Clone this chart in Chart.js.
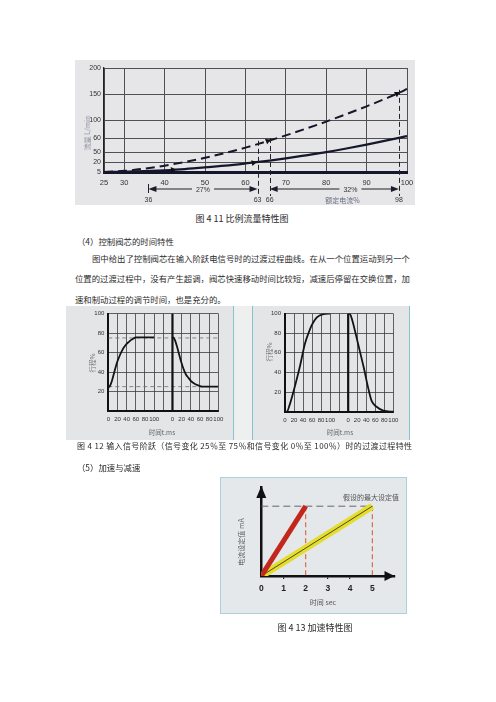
<!DOCTYPE html>
<html lang="zh-CN">
<head>
<meta charset="utf-8">
<script src="https://cdn.jsdelivr.net/npm/chart.js@4.4.1/dist/chart.umd.min.js"></script>
<style>
  body { margin: 0; width: 496px; height: 702px; position: relative; overflow: hidden; background: #fff;
         font-family: "Noto Sans CJK SC", sans-serif; color: #2b2b2b; }
  canvas { position: absolute; }
  .box { position: absolute; }
  .t { position: absolute; line-height: 14px; font-size: 8.4px; white-space: nowrap; }
  .c { position: absolute; white-space: nowrap; transform: translate(-50%, -50%); }
  .v { position: absolute; white-space: nowrap; transform: translate(-50%, -50%) rotate(-90deg); }
</style>
</head>
<body>

<!-- 图4-11 -->
<div class="box" style="left:75px;top:60px;width:340px;height:145px;background:#e6e6e8"></div>
<canvas id="flowChart" width="360" height="155" style="left:65px;top:55px"></canvas>
<div class="v" style="left:87px;top:133px;font-size:7px;color:#8a8e9c">流量 L/min</div>

<div class="t" style="left:142px;top:212px;width:200px;text-align:center;font-size:9px">图 4 11 比例流量特性图</div>
<div class="t" style="left:77px;top:234px">（4）控制阀芯的时间特性</div>
<div class="t j" data-w="318" style="left:92px;top:251px">图中给出了控制阀芯在输入阶跃电信号时的过渡过程曲线。在从一个位置运动到另一个</div>
<div class="t j" data-w="335" style="left:75px;top:271px">位置的过渡过程中，没有产生超调，阀芯快速移动时间比较短，减速后停留在交换位置，加</div>
<div class="t" style="left:75px;top:292px">速和制动过程的调节时间，也是充分的。</div>

<!-- 图4-12 -->
<div class="box" style="left:66px;top:306px;width:167px;height:134px;background:#e4e5e7;border-right:1px solid #86c2cf"></div>
<div class="box" style="left:234px;top:306px;width:18px;height:134px;background:#eef0f0"></div>
<div class="box" style="left:252px;top:306px;width:156px;height:134px;background:#e4e5e7;border-left:1px solid #86c2cf;border-right:1px solid #86c2cf"></div>
<canvas id="stepLeft" width="167" height="134" style="left:66px;top:306px"></canvas>
<canvas id="stepRight" width="157" height="134" style="left:252px;top:306px"></canvas>
<div class="v" style="left:92px;top:363px;font-size:6.5px;color:#777">行程%</div>
<div class="v" style="left:269px;top:352px;font-size:6.5px;color:#777">行程%</div>
<div class="c" style="left:162px;top:432px;font-size:6.5px;color:#666">时间t.ms</div>
<div class="c" style="left:340px;top:432px;font-size:6.5px;color:#666">时间t.ms</div>

<div class="t j" data-w="335" style="left:77px;top:439px;font-size:8px">图 4 12 输入信号阶跃（信号变化 25％至 75％和信号变化 0％至 100％）时的过渡过程特性</div>
<div class="t" style="left:77px;top:460px">（5）加速与减速</div>

<!-- 图4-13 -->
<div class="box" style="left:220px;top:477px;width:185px;height:135px;background:#e4e8eb;border:1.5px solid #a9d2dd"></div>
<canvas id="rampChart" width="188" height="137" style="left:220px;top:477px"></canvas>
<div class="c" style="left:371px;top:497px;font-size:7px;color:#555">假设的最大设定值</div>
<div class="v" style="left:241px;top:542px;font-size:7px;color:#666">电流设定值 mA</div>
<div class="c" style="left:323px;top:602px;font-size:7px;color:#555">时间 sec</div>

<div class="t" style="left:265px;top:621px;width:100px;text-align:center;font-size:9px">图 4 13  加速特性图</div>

<script>
  // ===== 图4-11 比例流量特性 =====
  const currentPct = [25, 30, 35, 40, 45, 50, 55, 60, 66, 70, 75, 80, 85, 90, 95, 98, 100];
  const flowMax    = [5, 6.7, 10, 14.5, 20, 32.6, 47, 53.1, 58.2, 65.8, 80.7, 96.4, 111.3, 126.3, 142.1, 152.1, 159.6];
  const flowRated  = [5, 5.3, 6.2, 7.6, 9.4, 11.8, 14.5, 17.8, 24.2, 30.8, 40.1, 49.7, 52.5, 55.3, 58.3, 60.4, 64.4];
  const flowXTicks = [25, 30, 40, 50, 60, 70, 80, 90, 100];
  const flowYTicks = [5, 20, 50, 60, 100, 150, 200];
  const arrowPct   = [42, 62, 65.5, 97.5];
  const arrowFlow  = [8.3, 19, 57.9, 150.4];
  const rangeFrom  = [36, 66];
  const rangeTo    = [63, 98];
  const rangeText  = ['27%', '32%'];
  const dropPct    = [63, 66, 98];
  const dropFlow   = [58, 60, 158];

  // ===== 图4-12 阶跃过渡过程 =====
  const riseT  = [0, 4, 8, 12, 16, 20, 25, 30, 35, 40, 45, 50, 55, 60, 70, 100];
  const riseY  = [24, 26, 31, 38, 45, 51, 57, 62, 66, 69, 71, 73, 74.5, 75.5, 75.5, 75.5];
  const fallT  = [0, 3, 6, 10, 14, 18, 22, 26, 30, 35, 40, 45, 50, 55, 60, 65, 100];
  const fallY  = [76, 75, 72, 66, 59, 52, 46, 41, 37, 34, 31, 29, 27.5, 26.5, 25.5, 25, 25];
  const openT  = [0, 4, 11, 22, 33, 44, 52, 59, 70, 85, 100];
  const openY  = [0, 0, 8, 26, 46, 69, 80, 88, 96, 99.5, 100];
  const closeT = [0, 3, 6, 11, 22, 34, 45, 52, 63, 78, 100];
  const closeY = [100, 100, 97.7, 90, 69, 46, 23, 11, 5, 1, 0];
  const signalLevels = [25, 75];

  // ===== 图4-13 加速特性 =====
  const fastRampT = [0, 2];
  const slowRampT = [0, 5];
  const rampMA    = [0, 20];

  // 两端对齐的文字行
  document.querySelectorAll('.j').forEach(el => {
    const target = parseFloat(el.dataset.w);
    const natural = el.getBoundingClientRect().width;
    const n = el.textContent.length;
    el.style.letterSpacing = ((target - natural) / (n - 1)) + 'px';
  });

  const FONT = 'Liberation Sans, Arial, sans-serif';
  Chart.defaults.font.family = FONT;
  Chart.defaults.animation = false;
  Chart.defaults.plugins.legend.display = false;
  Chart.defaults.plugins.tooltip.enabled = false;

  const pts = (xs, ys, dx = 0) => xs.map((x, i) => ({ x: x + dx, y: ys[i] }));

  // 原图纵轴刻度不等距，用分段线性的刻度轴
  const flowYSpacing = [0, 10, 20, 34, 52, 78, 104];
  class StretchScale extends Chart.LinearScale {
    toAxis(v) {
      if (v <= flowYTicks[0]) return flowYSpacing[0];
      for (let i = 1; i < flowYTicks.length; i++) {
        if (v <= flowYTicks[i]) {
          const f = (v - flowYTicks[i - 1]) / (flowYTicks[i] - flowYTicks[i - 1]);
          return flowYSpacing[i - 1] + f * (flowYSpacing[i] - flowYSpacing[i - 1]);
        }
      }
      return flowYSpacing[flowYSpacing.length - 1];
    }
    buildTicks() { return flowYTicks.map(v => ({ value: v })); }
    getPixelForValue(v, i) { return super.getPixelForValue(this.toAxis(v), i); }
  }
  StretchScale.id = 'stretch';
  StretchScale.defaults = Chart.LinearScale.defaults;
  Chart.register(StretchScale);

  function head(ctx, x, y, dir, len = 8, half = 3) {
    ctx.beginPath();
    ctx.moveTo(x, y);
    ctx.lineTo(x - dir * len, y - half);
    ctx.lineTo(x - dir * len, y + half);
    ctx.closePath();
    ctx.fill();
  }

  const flowNotes = {
    id: 'flowNotes',
    afterDraw(chart) {
      const { ctx, scales: { x, y } } = chart;
      const base = y.bottom;
      ctx.save();
      ctx.strokeStyle = '#222';
      ctx.fillStyle = '#1c1c2c';
      ctx.lineWidth = 1;

      ctx.setLineDash([5, 3]);
      dropPct.forEach((v, i) => {
        const px = Math.round(x.getPixelForValue(v)) + 0.5;
        ctx.beginPath();
        ctx.moveTo(px, y.getPixelForValue(dropFlow[i]));
        ctx.lineTo(px, base + 24);
        ctx.stroke();
      });
      ctx.setLineDash([]);
      const p36 = Math.round(x.getPixelForValue(rangeFrom[0])) + 0.5;
      ctx.beginPath(); ctx.moveTo(p36, base + 12); ctx.lineTo(p36, base + 21); ctx.stroke();

      ctx.font = '7px ' + FONT;
      ctx.textAlign = 'center';
      ctx.textBaseline = 'middle';
      const yy = base + 17;
      rangeFrom.forEach((a, i) => {
        const xa = x.getPixelForValue(a), xb = x.getPixelForValue(rangeTo[i]);
        const xm = i === 0 ? (xa + xb) / 2 : x.getPixelForValue(86);
        const w = ctx.measureText(rangeText[i]).width;
        ctx.lineWidth = 1.2;
        ctx.beginPath();
        ctx.moveTo(xa + 6, yy); ctx.lineTo(xm - w / 2 - 4, yy);
        ctx.moveTo(xm + w / 2 + 4, yy); ctx.lineTo(xb - 6, yy);
        ctx.stroke();
        head(ctx, xa, yy, -1);
        head(ctx, xb, yy, 1);
        ctx.fillStyle = '#333';
        ctx.fillText(rangeText[i], xm, yy + 1);
        ctx.fillStyle = '#1c1c2c';
      });

      ctx.fillStyle = '#333';
      [rangeFrom[0], rangeTo[0], rangeFrom[1], rangeTo[1]].forEach(v => {
        ctx.fillText(String(v), x.getPixelForValue(v), base + 28);
      });
      ctx.fillStyle = '#6a6e80';
      ctx.font = '7px "Noto Sans CJK SC"';
      ctx.fillText('额定电流%', x.getPixelForValue(84), base + 28);
      ctx.restore();
    }
  };

  new Chart(document.getElementById('flowChart'), {
    type: 'line',
    data: {
      datasets: [
        { data: pts(arrowPct, arrowFlow), showLine: false, pointStyle: 'triangle',
          pointRotation: [84, 78, 68, 60], pointRadius: 3.4, pointBackgroundColor: '#111', pointBorderWidth: 0 },
        { data: pts(currentPct, flowMax), borderColor: '#15172b', borderWidth: 2, borderDash: [9, 5],
          pointRadius: 0, cubicInterpolationMode: 'monotone' },
        { data: pts(currentPct, flowRated), borderColor: '#15172b', borderWidth: 2.2,
          pointRadius: 0, cubicInterpolationMode: 'monotone' }
      ]
    },
    options: {
      responsive: false,
      devicePixelRatio: 1,
      layout: { padding: { top: 13, right: 18, left: 0, bottom: 0 } },
      scales: {
        x: {
          type: 'linear', min: 25, max: 100,
          afterBuildTicks: s => { s.ticks = flowXTicks.map(v => ({ value: v })); },
          afterFit: s => { s.height = 38; },
          grid: { color: '#505052', lineWidth: 1, drawTicks: false },
          border: { color: '#14162e', width: 3 },
          ticks: { padding: 6, autoSkip: false, maxRotation: 0, font: { size: 7.5 }, color: '#333' }
        },
        y: {
          type: 'stretch', min: 0, max: 104,
          afterFit: s => { s.width = 39; },
          grid: { color: '#505052', lineWidth: 1, drawTicks: false },
          border: { color: '#222', width: 1.3 },
          ticks: { padding: 3, font: { size: 7 }, color: '#333', callback: v => String(v) }
        }
      }
    },
    plugins: [flowNotes]
  });

  // ===== 图4-12 =====
  const panelGap = 140;
  const curveStyle = { borderColor: '#141414', borderWidth: 1.8, pointRadius: 0, cubicInterpolationMode: 'monotone' };

  function stepPanel(id, sets, box) {
    return new Chart(document.getElementById(id), {
      type: 'line',
      data: { datasets: sets },
      options: {
        responsive: false,
        devicePixelRatio: 1,
        layout: { padding: { top: box.top, right: box.right, left: 0, bottom: 0 } },
        scales: {
          x: {
            type: 'linear', min: 0, max: 240,
            afterFit: s => { s.height = box.axisH; },
            grid: { color: '#3c3c3c', lineWidth: 0.8, drawTicks: false },
            border: { color: '#111', width: 2 },
            ticks: { stepSize: 20, autoSkip: false, maxRotation: 0, padding: 5, font: { size: 6 }, color: '#333',
                     callback: v => v <= 100 ? v : (v >= panelGap ? v - panelGap : '') }
          },
          y: {
            min: 0, max: 100,
            afterFit: s => { s.width = box.axisW; },
            grid: { color: '#3c3c3c', lineWidth: 0.8, drawTicks: false },
            border: { color: '#111', width: 2 },
            ticks: { stepSize: 10, padding: 4, font: { size: 6 }, color: '#333',
                     callback: v => (v > 0 && v % 20 === 0) ? v : '' }
          }
        }
      }
    });
  }

  const secondAxis = { data: pts([0, 0], [0, 100], panelGap), borderColor: '#111', borderWidth: 2.2, pointRadius: 0 };

  stepPanel('stepLeft', [
    Object.assign({ data: pts(riseT, riseY) }, curveStyle),
    Object.assign({ data: pts(fallT, fallY, panelGap) }, curveStyle),
    secondAxis,
    ...signalLevels.map(lv => ({ data: pts([0, 240], [lv, lv]), borderColor: '#6a6a6a', borderWidth: 0.8,
                                 borderDash: [4, 3], pointRadius: 0 }))
  ], { top: 5, right: 14.7, axisW: 42.3, axisH: 29 });

  stepPanel('stepRight', [
    Object.assign({ data: pts(openT, openY) }, curveStyle),
    Object.assign({ data: pts(closeT, closeY, panelGap) }, curveStyle),
    Object.assign({}, secondAxis)
  ], { top: 4, right: 15.7, axisW: 33, axisH: 28.3 });

  // ===== 图4-13 =====
  const axisArrows = {
    id: 'axisArrows',
    afterDraw(chart) {
      const { ctx, chartArea: { left, right, top, bottom } } = chart;
      ctx.save();
      ctx.fillStyle = '#111';
      ctx.beginPath();
      ctx.moveTo(left, top - 1); ctx.lineTo(left - 5, top + 11); ctx.lineTo(left + 5, top + 11);
      ctx.closePath(); ctx.fill();
      head(ctx, right, bottom, 1, 10, 5);
      ctx.restore();
    }
  };

  const maxMA = rampMA[rampMA.length - 1];
  const fastEnd = fastRampT[fastRampT.length - 1];
  const slowEnd = slowRampT[slowRampT.length - 1];

  new Chart(document.getElementById('rampChart'), {
    type: 'line',
    data: {
      datasets: [
        { data: pts(fastRampT, rampMA), borderColor: '#c3261b', borderWidth: 5, pointRadius: 0 },
        { data: pts(slowRampT, rampMA), borderColor: '#2a2a14', borderWidth: 0.8, pointRadius: 0 },
        { data: pts(slowRampT, rampMA), borderColor: '#e4dc2e', borderWidth: 7, pointRadius: 0 },
        { data: pts([0, slowEnd], [maxMA, maxMA]), borderColor: '#666', borderWidth: 1, borderDash: [7, 4], pointRadius: 0 },
        { data: pts([fastEnd, fastEnd], [maxMA, 0]), borderColor: '#d9532c', borderWidth: 1, borderDash: [5, 3], pointRadius: 0 },
        { data: pts([slowEnd, slowEnd], [maxMA, 0]), borderColor: '#d9532c', borderWidth: 1, borderDash: [5, 3], pointRadius: 0 }
      ]
    },
    options: {
      responsive: false,
      devicePixelRatio: 1,
      layout: { padding: { top: 10, right: 13.5, left: 0, bottom: 0 } },
      scales: {
        x: {
          type: 'linear', min: 0, max: 6,
          afterFit: s => { s.height = 38; },
          grid: { drawOnChartArea: false, tickLength: 3, lineWidth: 1.2,
                  color: c => [1, 3, 4].includes(c.tick && c.tick.value) ? '#222' : 'rgba(0,0,0,0)' },
          border: { color: '#111', width: 2.5 },
          ticks: { stepSize: 1, padding: 5, font: { size: 8.5, weight: 'bold' }, color: '#222',
                   callback: v => v <= 5 ? v : '' }
        },
        y: {
          min: 0, max: 25.5,
          afterFit: s => { s.width = 41.3; },
          grid: { display: false },
          border: { color: '#111', width: 2.5 },
          ticks: { display: false }
        }
      }
    },
    plugins: [axisArrows]
  });
</script>
</body>
</html>
